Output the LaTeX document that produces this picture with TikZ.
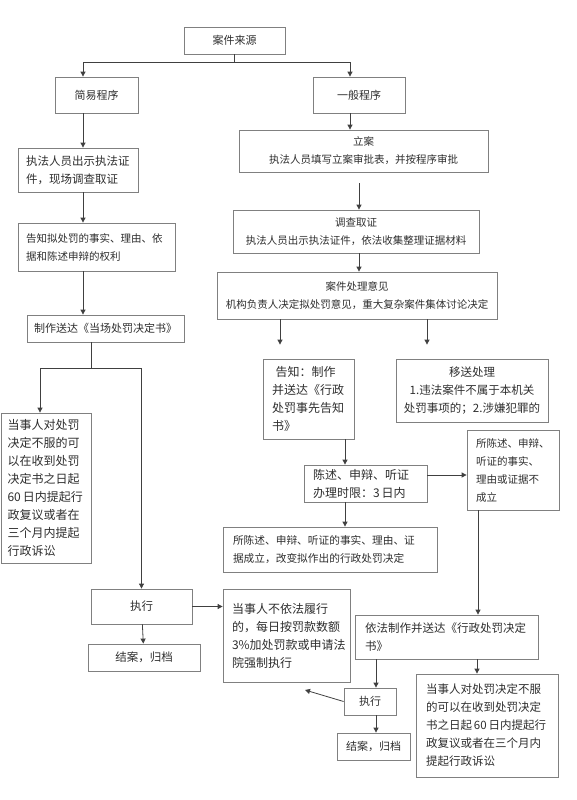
\documentclass[tikz,border=0pt]{standalone}
\usepackage{fontspec}
\setmainfont{Noto Sans CJK SC}
\usepackage{xcolor}
\usetikzlibrary{arrows.meta}
\definecolor{boxgray}{HTML}{808080}
\definecolor{linegray}{HTML}{404040}
\definecolor{textgray}{HTML}{2E2E2E}
\newcommand{\boxfont}[1]{\fontsize{#1}{18}\selectfont}

\begin{document}
\begin{tikzpicture}[x=1pt, y=-1pt,
    every node/.style={text=textgray, font=\boxfont{11}},
    box/.style={draw=boxgray, line width=0.8pt, inner xsep=0pt, inner ysep=0pt, align=center},
    lbox/.style={draw=boxgray, line width=0.8pt, inner ysep=0pt, align=left},
    link/.style={draw=linegray, line width=0.8pt},
    arr/.style={link, -{Triangle[length=5pt, width=5pt]}},
]
\useasboundingbox (0,0) rectangle (576,800);

% =====================================================================
% Top: case source and the two procedures
% =====================================================================
\node[box, minimum width=101pt, minimum height=27pt] (src) at (234.5,40.5) {案件来源};
\node[box, minimum width=83pt, minimum height=36pt] (simple) at (96.5,95) {简易程序};
\node[box, minimum width=92pt, minimum height=36pt] (general) at (359,95) {一般程序};

\draw[link] (src.south) -- ++(0,8) coordinate (split);
\draw[arr] (split) -| ([xshift=-13.5pt]simple.north);
\draw[arr] (split) -| ([xshift=-9pt]general.north);

% =====================================================================
% Left column: simple procedure
% =====================================================================
\node[lbox, font=\boxfont{11.5}, text width=104pt, inner xsep=8pt, minimum height=44pt]
    (sShow) at (78,170) {执法人员出示执法证\\件，现场调查取证};
\node[lbox, font=\boxfont{10.5}, text width=141pt, inner xsep=8pt, minimum height=48pt]
    (sNotify) at (96.5,247) {告知拟处罚的事实、理由、依\\据和陈述申辩的权利};
\node[box, minimum width=157pt, minimum height=27pt] (sDeliver) at (105.5,328.5) {制作送达《当场处罚决定书》};
\node[lbox, font=\boxfont{12}, text width=77pt, inner xsep=6.5pt, minimum height=150pt]
    (sAppeal) at (46,488) {当事人对处罚\\决定不服的可\\以在收到处罚\\决定书之日起\\60\,日内提起行\\政复议或者在\\三个月内提起\\行政诉讼};
\node[box, font=\boxfont{11.5}, minimum width=101pt, minimum height=35pt] (sExec) at (141.5,606.5) {执行};
\node[box, font=\boxfont{11.5}, minimum width=112pt, minimum height=27pt] (sClose) at (144,657.5) {结案，归档};

\draw[arr] ([xshift=-13.5pt]simple.south) -- ([xshift=-13.5pt]simple.south |- sShow.north);
\draw[arr] ([xshift=5pt]sShow.south) -- ([xshift=5pt]sShow.south |- sNotify.north);
\draw[arr] ([xshift=-13.5pt]sNotify.south) -- ([xshift=-13.5pt]sNotify.south |- sDeliver.north);
\draw[link] ([xshift=-14.5pt]sDeliver.south) -- ++(0,26) coordinate (sFork);
\draw[arr] (sFork) -| ([xshift=-6pt]sAppeal.north);
\draw[arr] (sFork) -| (sExec.north);
\draw[arr] (sExec) -- (sClose);

% =====================================================================
% Right column: general procedure
% =====================================================================
\node[box, font=\boxfont{10.5}, minimum width=249pt, minimum height=42pt]
    (gFile) at (363.5,151) {立案\\执法人员填写立案审批表，并按程序审批};
\node[box, font=\boxfont{10.5}, minimum width=246pt, minimum height=43pt]
    (gInvest) at (356,231.5) {调查取证\\执法人员出示执法证件，依法收集整理证据材料};
\node[box, font=\boxfont{10.5}, minimum width=280pt, minimum height=47pt]
    (gOpinion) at (357,295.5) {案件处理意见\\机构负责人决定拟处罚意见，重大复杂案件集体讨论决定};
\node[lbox, font=\boxfont{12}, text width=73pt, inner xsep=9pt, minimum height=80pt]
    (gInform) at (308.5,399) {\hspace*{0.3em}告知：制作\\并送达《行政\\处罚事先告知\\书》};
\node[box, font=\boxfont{11.5}, minimum width=152pt, minimum height=63pt]
    (gTransfer) at (472,390.5) {移送处理\\1.违法案件不属于本机关\\处罚事项的；2.涉嫌犯罪的};
\node[lbox, font=\boxfont{12}, text width=105pt, inner xsep=9pt, minimum height=37pt]
    (gHear) at (365.5,483.5) {陈述、申辩、听证\\办理时限：3\,日内};
\node[lbox, font=\boxfont{10.5}, text width=74pt, inner xsep=9pt, minimum height=80pt]
    (gReject) at (513,470) {所陈述、申辩、\\听证的事实、\\理由或证据不\\成立};
\node[lbox, font=\boxfont{10.7}, text width=194pt, inner xsep=10pt, minimum height=45pt]
    (gAccept) at (330,549.5) {所陈述、申辩、听证的事实、理由、证\\据成立，改变拟作出的行政处罚决定};
\node[lbox, font=\boxfont{12}, text width=109pt, inner xsep=9pt, minimum height=93pt]
    (gForce) at (286.5,635.5) {当事人不依法履行\\的，每日按罚款数额\\3\%加处罚款或申请法\\院强制执行};
\node[lbox, font=\boxfont{11.5}, text width=163pt, inner xsep=10pt, minimum height=44pt]
    (gDecide) at (446.5,637) {依法制作并送达《行政处罚决定\\书》};
\node[box, minimum width=52pt, minimum height=27pt] (gExec) at (370,701.5) {执行};
\node[box, minimum width=73pt, minimum height=27pt] (gClose) at (373.5,746.5) {结案，归档};
\node[lbox, font=\boxfont{11.5}, text width=122pt, inner xsep=10pt, minimum height=103pt]
    (gAppeal) at (487,725.5) {当事人对处罚决定不服\\的可以在收到处罚决定\\书之日起\,60\,日内提起行\\政复议或者在三个月内\\提起行政诉讼};
\coordinate (forceTip) at (305,690);

\draw[arr] ([xshift=-9pt]general.south) -- ([xshift=-9pt]general.south |- gFile.north);
\draw[arr, shorten <=11pt] ([xshift=-4.5pt]gFile.south) -- ([xshift=-4.5pt]gFile.south |- gInvest.north);
\draw[arr] ([xshift=3pt]gInvest.south) -- ([xshift=3pt]gInvest.south |- gOpinion.north);
\draw[arr, shorten >=14pt] ([xshift=-77pt]gOpinion.south) -- ([xshift=-77pt]gOpinion.south |- gInform.north);
\draw[arr, shorten >=14pt] ([xshift=70pt]gOpinion.south) -- ([xshift=70pt]gOpinion.south |- gTransfer.north);
\draw[arr] ([xshift=36.5pt]gInform.south) -- ([xshift=36.5pt]gInform.south |- gHear.north);
\draw[arr] ([yshift=8.5pt]gHear.east) -- ([yshift=8.5pt]gHear.east -| gReject.west);
\draw[arr] ([xshift=-20.5pt]gHear.south) -- ([xshift=-20.5pt]gHear.south |- gAccept.north);
\draw[arr] ([xshift=-35pt]gReject.south) -- ([xshift=-35pt]gReject.south |- gDecide.north);
\draw[arr] (sExec.east) -- (sExec.east -| gForce.west);
\draw[arr] ([xshift=-70.5pt]gDecide.south) -- ([xshift=-70.5pt]gDecide.south |- gExec.north);
\draw[arr] ([xshift=30.5pt]gDecide.south) -- ([xshift=30.5pt]gDecide.south |- gAppeal.north);
\draw[arr] (gExec.west) -- (forceTip);
\draw[arr] ([xshift=6pt]gExec.south) -- ([xshift=6pt]gExec.south |- gClose.north);

\end{tikzpicture}
\end{document}
